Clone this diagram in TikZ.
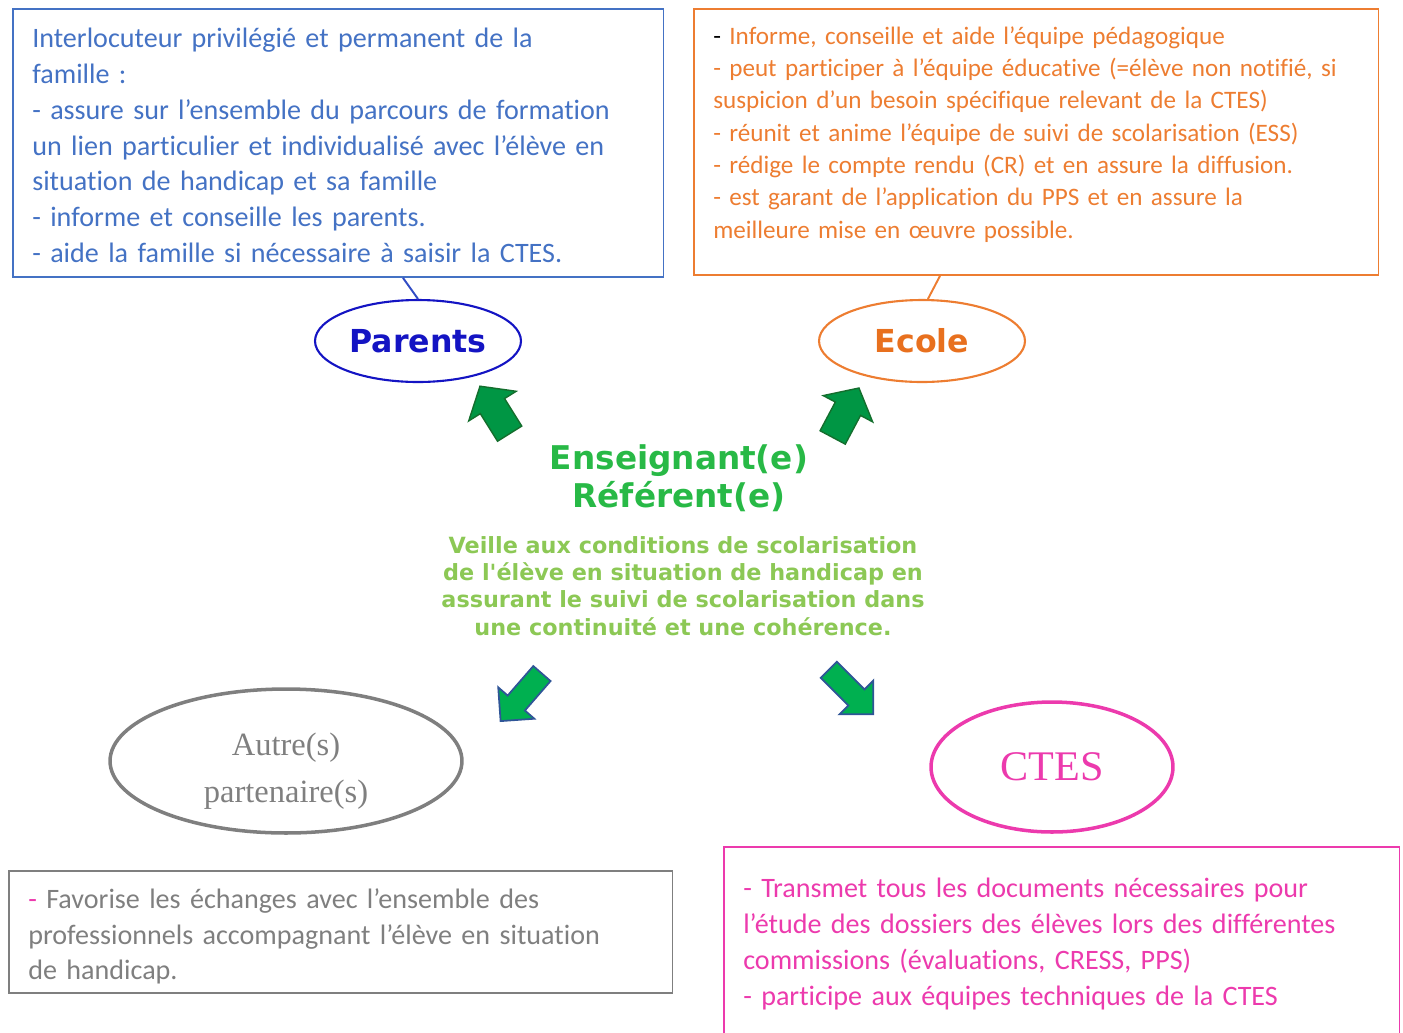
\documentclass[tikz,border=0pt]{standalone}
\usepackage{fontspec}
\setmainfont{Carlito}[Ligatures={TeX,NoCommon}]
\newfontfamily\wideboldfont{DejaVu Sans}
\newfontfamily\romanfont{Liberation Serif}
\usetikzlibrary{shapes.geometric,shapes.arrows,calc}

% colours
\definecolor{boxblue}{RGB}{68,114,196}
\definecolor{parentsblue}{RGB}{20,20,195}
\definecolor{boxorange}{RGB}{237,125,49}
\definecolor{ecoleorange}{RGB}{232,112,30}
\definecolor{autregray}{RGB}{127,127,127}
\definecolor{ctespink}{RGB}{236,58,173}
\definecolor{refgreen}{RGB}{40,185,70}
\definecolor{veillegreen}{RGB}{140,200,85}
\definecolor{arrowgreen}{RGB}{0,176,80}
\definecolor{arrowdark}{RGB}{20,110,45}
\definecolor{arrowblue}{RGB}{47,85,151}

\tikzset{
  infobox/.style={draw, rectangle, line width=1.1pt, anchor=north west, align=left,
    inner xsep=11pt, inner ysep=0pt, font=\fontsize{16}{20.4}\selectfont},
  roleellipse/.style={draw, ellipse, inner sep=0pt},
  uparrow/.style={single arrow, draw=arrowdark, fill=arrowgreen!85!black, line width=0.8pt,
    inner xsep=0pt, inner ysep=7pt, minimum height=1.12cm, minimum width=1.12cm,
    single arrow tip angle=100},
  downarrow/.style={single arrow, draw=arrowblue, fill=arrowgreen, line width=1pt,
    inner xsep=0pt, inner ysep=6pt, minimum height=1.26cm, minimum width=0.94cm,
    single arrow tip angle=90}
}

\begin{document}
\begin{tikzpicture}[x=0.02cm, y=-0.02cm]
  % page size in pixels
  \useasboundingbox (0,0) rectangle (1403,1032);

  % text boxes
  \node[infobox, draw=boxblue, text=boxblue, text width=12.24cm, minimum height=5.36cm]
    (parentsbox) at (12,8)
    {\rule{0pt}{14pt}Interlocuteur privilégié et permanent de la\\
     famille :\\
     - assure sur l’ensemble du parcours de formation\\
     un lien particulier et individualisé avec l’élève en\\
     situation de handicap et sa famille\\
     - informe et conseille les parents.\\
     - aide la famille si nécessaire à saisir la CTES.};
  \node[infobox, draw=boxorange, text=boxorange, text width=12.92cm, minimum height=5.32cm,
    font=\fontsize{14.3}{18.4}\selectfont]
    (ecolebox) at (693,8)
    {{\color{black}-} Informe, conseille et aide l’équipe pédagogique\\
     - peut participer à l’équipe éducative (=élève non notifié, si\\
     suspicion d’un besoin spécifique relevant de la CTES)\\
     - réunit et anime l’équipe de suivi de scolarisation (ESS)\\
     - rédige le compte rendu (CR) et en assure la diffusion.\\
     - est garant de l’application du PPS et en assure la\\
     meilleure mise en œuvre possible.\rule[-11pt]{0pt}{0pt}};
  \node[infobox, draw=autregray, text=autregray, text width=12.5cm, minimum height=2.44cm,
    font=\fontsize{16}{20.1}\selectfont]
    (autrebox) at (8,870)
    {\rule{0pt}{16.5pt}{\color{ctespink}-} Favorise les échanges avec l’ensemble des\\
     professionnels accompagnant l’élève en situation\\
     de handicap.};
  \node[infobox, draw=ctespink, text=ctespink, text width=12.74cm, minimum height=3.88cm]
    (ctesbox) at (723,846)
    {- Transmet tous les documents nécessaires pour\\
     l’étude des dossiers des élèves lors des différentes\\
     commissions (évaluations, CRESS, PPS)\\
     - participe aux équipes techniques de la CTES};

  % partners
  \node[roleellipse, draw=parentsblue, line width=1.2pt, minimum width=4.12cm, minimum height=1.64cm,
    text=parentsblue, font=\wideboldfont\bfseries\fontsize{18}{21}\selectfont]
    (parents) at (418,341) {Parents};
  \node[roleellipse, draw=boxorange, line width=1.2pt, minimum width=4.12cm, minimum height=1.64cm,
    text=ecoleorange, font=\wideboldfont\bfseries\fontsize{18}{21}\selectfont]
    (ecole) at (922,341) {Ecole};
  \node[roleellipse, draw=autregray, line width=2pt, minimum width=7.04cm, minimum height=2.88cm,
    text=autregray, align=center, font=\romanfont\fontsize{18.5}{26.6}\selectfont]
    (autre) at (286,761) {\rule{0pt}{24pt}Autre(s)\\partenaire(s)};
  \node[roleellipse, draw=ctespink, line width=2pt, minimum width=4.84cm, minimum height=2.6cm,
    text=ctespink, font=\romanfont\fontsize{24}{28}\selectfont]
    (ctes) at (1052,767) {CTES};

  % referent in the middle
  \node[text=refgreen, align=center, font=\wideboldfont\bfseries\fontsize{18.6}{21.5}\selectfont]
    (referent) at (679,478) {Enseignant(e)\\Référent(e)};
  \node[text=veillegreen, align=center, font=\wideboldfont\bfseries\fontsize{12.7}{15.5}\selectfont]
    (veille) at (683,586)
    {Veille aux conditions de scolarisation\\
     de l'élève en situation de handicap en\\
     assurant le suivi de scolarisation dans\\
     une continuité et une cohérence.};

  % block arrows
  \foreach \coords/\dir [count=\index] in {(498,415)/122, (843,418)/62}
  {
    \node[uparrow, rotate=\dir] (arrow_\index) at \coords {};
  }
  \foreach \coords/\dir [count=\index from 3] in {(525,693)/229, (847,688)/-45}
  {
    \node[downarrow, rotate=\dir] (arrow_\index) at \coords {};
  }

  % links from boxes
  \draw[boxblue!60!parentsblue, line width=1.1pt] ($(parentsbox.south west)+(391,0)$) -- (parents.north);
  \draw[boxorange, line width=1.1pt] ($(ecolebox.south west)+(247,0)$) -- (ecole.82);
\end{tikzpicture}
\end{document}
